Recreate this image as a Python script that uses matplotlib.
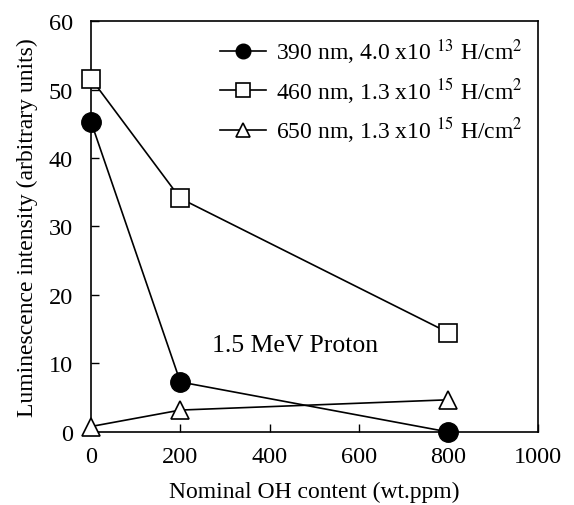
import matplotlib
matplotlib.use("Agg")
import matplotlib.pyplot as plt

plt.rcParams['font.family'] = ['Liberation Serif', 'DejaVu Serif']
plt.rcParams['mathtext.fontset'] = 'stix'

# data
oh_content = [0, 200, 800]
i_390 = [45.3, 7.3, 0.0]
i_460 = [51.6, 34.1, 14.5]
i_650 = [0.8, 3.2, 4.7]

labels = [r"390 nm, 4.0 x10 $^{13}$ H/cm$^{2}$",
          r"460 nm, 1.3 x10 $^{15}$ H/cm$^{2}$",
          r"650 nm, 1.3 x10 $^{15}$ H/cm$^{2}$"]

fig = plt.figure(figsize=(5.74, 5.06), dpi=100)
ax = fig.add_axes([0.1585, 0.1443, 0.7785, 0.8122])

ax.plot(oh_content, i_390, '-o', color='black', lw=1.2, ms=14,
        mfc='black', clip_on=False, zorder=3, label=labels[0])
ax.plot(oh_content, i_460, '-s', color='black', lw=1.2, ms=13,
        mfc='white', mew=1.2, clip_on=False, zorder=3, label=labels[1])
ax.plot(oh_content, i_650, '-^', color='black', lw=1.2, ms=13,
        mfc='white', mew=1.2, clip_on=False, zorder=3, label=labels[2])

ax.set_xlim(0, 1000)
ax.set_ylim(0, 60)
ax.set_xticks(range(0, 1001, 200))
ax.set_yticks(range(0, 61, 10))
ax.tick_params(direction='in', length=6, width=1, labelsize=17.5)
ax.tick_params(axis='x', pad=10)
ax.tick_params(axis='y', pad=13)
for s in ax.spines.values():
    s.set_linewidth(1.2)

ax.set_xlabel("Nominal OH content (wt.ppm)", fontsize=17, labelpad=10)
ax.set_ylabel("Luminescence intensity (arbitrary units)", fontsize=17, labelpad=8)

ax.text(456, 12.7, "1.5 MeV Proton", fontsize=18.5, ha='center', va='center')

leg = ax.legend(loc='upper right', frameon=False, fontsize=17,
                handlelength=1.95, handletextpad=0.4, labelspacing=0.4,
                borderaxespad=0.25, markerscale=0.75)

plt.savefig("out.png", dpi=100)
